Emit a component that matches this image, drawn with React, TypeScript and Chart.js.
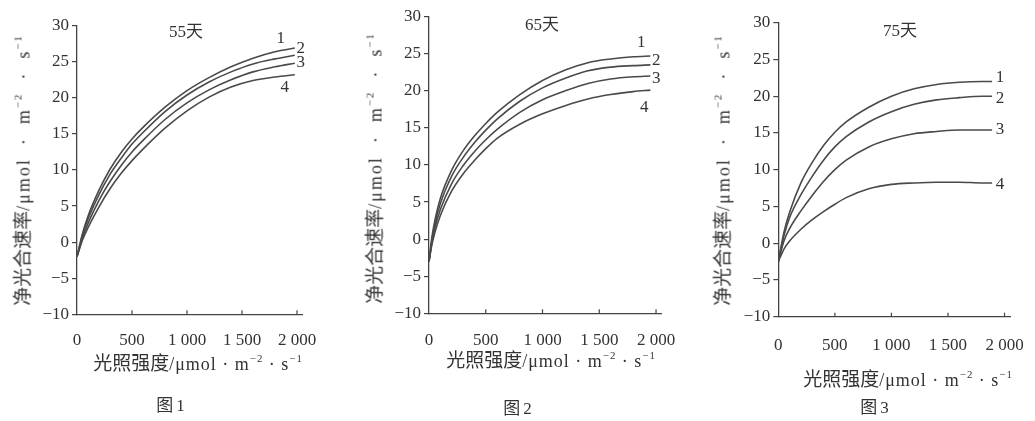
import React, { useEffect, useRef } from "react";
import { Chart, registerables } from "chart.js";

Chart.register(...registerables);

// ---------- data ----------
const xTickValues = [0, 500, 1000, 1500, 2000];
const xTickLabels = ["0", "500", "1 000", "1 500", "2 000"];
const yTickValues = [-10, -5, 0, 5, 10, 15, 20, 25, 30];
const yTickLabels = ["−10", "−5", "0", "5", "10", "15", "20", "25", "30"];
const lineNames = ["1", "2", "3", "4"];
const panelTitles = ["55天", "65天", "75天"];
const figureCaptions = ["图1", "图2", "图3"];

const light55 = [0, 50, 100, 200, 300, 400, 500, 600, 800, 1000, 1200, 1400, 1600, 1800, 1980];
const day55Line1 = [-2, 1.2, 3.6, 7.2, 10.1, 12.4, 14.3, 15.9, 18.7, 21.0, 22.8, 24.3, 25.5, 26.4, 26.9];
const day55Line2 = [-2, 1.0, 3.2, 6.6, 9.4, 11.6, 13.6, 15.2, 18.1, 20.4, 22.2, 23.6, 24.7, 25.4, 25.9];
const day55Line3 = [-2, 0.6, 2.6, 5.8, 8.4, 10.6, 12.5, 14.1, 17.0, 19.3, 21.1, 22.5, 23.6, 24.3, 24.8];
const day55Line4 = [-2, 0.3, 2.0, 4.9, 7.4, 9.5, 11.3, 12.9, 15.8, 18.2, 20.1, 21.5, 22.4, 22.9, 23.2];

const light65 = [0, 25, 50, 100, 200, 300, 400, 500, 600, 800, 1000, 1200, 1400, 1600, 1800, 1950];
const day65Line1 = [-3, 0.2, 2.4, 5.5, 9.3, 11.9, 13.9, 15.6, 17.1, 19.5, 21.4, 22.8, 23.8, 24.3, 24.6, 24.7];
const day65Line2 = [-3, -0.2, 1.9, 4.8, 8.5, 11.0, 13.0, 14.7, 16.2, 18.6, 20.4, 21.7, 22.7, 23.2, 23.4, 23.5];
const day65Line3 = [-3, -0.5, 1.4, 4.0, 7.5, 9.9, 11.8, 13.4, 14.8, 17.1, 18.8, 20.0, 21.0, 21.6, 21.9, 22.0];
const day65Line4 = [-3, -0.8, 0.8, 3.2, 6.5, 8.8, 10.6, 12.2, 13.6, 15.5, 16.9, 18.0, 18.9, 19.5, 19.9, 20.1];

const light75 = [0, 50, 100, 200, 300, 400, 500, 600, 800, 1000, 1200, 1400, 1600, 1800, 1890];
const day75Line1 = [-2.5, 1.5, 4.2, 8.2, 11.0, 13.3, 15.1, 16.5, 18.5, 20.0, 21.0, 21.6, 21.9, 22.0, 22.0];
const day75Line2 = [-2.5, 1.0, 3.5, 6.6, 9.1, 11.3, 13.1, 14.5, 16.5, 17.9, 18.9, 19.5, 19.8, 20.0, 20.0];
const day75Line3 = [-2.5, 0.3, 2.0, 4.4, 6.5, 8.4, 10.0, 11.3, 13.1, 14.2, 14.9, 15.2, 15.4, 15.4, 15.4];
const day75Line4 = [-2.5, -0.8, 0.3, 1.9, 3.2, 4.3, 5.3, 6.2, 7.4, 8.0, 8.2, 8.3, 8.3, 8.2, 8.2];

const X_MAX = 2050;

// ---------- styles / layout ----------
const FONT = "'Liberation Serif', 'Noto Sans CJK SC', serif";
const LINE_COLOR = "#4a4a4a";
const AXIS_COLOR = "#444";
const TEXT_COLOR = "#333";

type Panel = {
  left: number;
  width: number;
  pad: { left: number; right: number; top: number; bottom: number };
  xLabelPad: number;
  labelOffsets: number[][];
  xs: number[];
  lines: number[][];
  title: [number, number];
  caption: [number, number];
  xTitle: [number, number];
  yTitle: [number, number];
};

const Y_AXIS_W = 45;
const X_AXIS_H = 50;

const panels: Panel[] = [
  {
    left: 0,
    width: 345,
    pad: { left: 77 - Y_AXIS_W, right: 345 - 302.5, top: 25.7, bottom: 421 - 314.3 - X_AXIS_H },
    xLabelPad: 8,
    labelOffsets: [[-14, -10], [6, -7], [6, -1], [-10, 13]],
    xs: light55,
    lines: [day55Line1, day55Line2, day55Line3, day55Line4],
    title: [186, 31],
    caption: [172, 405],
    xTitle: [198, 363],
    yTitle: [23, 170],
  },
  {
    left: 345,
    width: 345,
    pad: { left: 84 - Y_AXIS_W, right: 345 - 316.7, top: 16.7, bottom: 421 - 313.3 - X_AXIS_H },
    xLabelPad: 9,
    labelOffsets: [[-9, -13], [6, -4], [6, 3], [-6, 17]],
    xs: light65,
    lines: [day65Line1, day65Line2, day65Line3, day65Line4],
    title: [542, 24],
    caption: [519, 408],
    xTitle: [551, 360],
    yTitle: [375, 168],
  },
  {
    left: 690,
    width: 345,
    pad: { left: 88.3 - Y_AXIS_W, right: 345 - 330.9, top: 22.7, bottom: 421 - 316.7 - X_AXIS_H },
    xLabelPad: 11,
    labelOffsets: [[8, -4], [8, 2], [8, 0], [8, 2]],
    xs: light75,
    lines: [day75Line1, day75Line2, day75Line3, day75Line4],
    title: [900, 30],
    caption: [876, 407],
    xTitle: [908, 379],
    yTitle: [723, 170],
  },
];

const innerTicks = {
  id: "innerTicks",
  afterDraw(chart: any) {
    const x = chart.scales.x;
    const ctx = chart.ctx;
    const yb = chart.chartArea.bottom;
    ctx.save();
    ctx.strokeStyle = AXIS_COLOR;
    ctx.lineWidth = 1.2;
    x.ticks.forEach((t: any) => {
      if (t.value === 0) return;
      const px = x.getPixelForValue(t.value);
      ctx.beginPath();
      ctx.moveTo(px, yb);
      ctx.lineTo(px, yb - 4);
      ctx.stroke();
    });
    ctx.restore();
  },
};

const lineLabels = {
  id: "lineLabels",
  afterDatasetsDraw(chart: any, _args: any, opts: any) {
    const ctx = chart.ctx;
    const offsets = opts.offsets || [];
    ctx.save();
    ctx.fillStyle = TEXT_COLOR;
    ctx.font = `17px ${FONT}`;
    ctx.textAlign = "center";
    ctx.textBaseline = "middle";
    chart.data.datasets.forEach((ds: any, i: number) => {
      const meta = chart.getDatasetMeta(i);
      const pt = meta.data[meta.data.length - 1];
      if (!pt) return;
      const off = offsets[i] || [0, 0];
      ctx.fillText(ds.label, pt.x + off[0], pt.y + off[1]);
    });
    ctx.restore();
  },
};

function PanelChart({ p }: { p: Panel }) {
  const ref = useRef<HTMLCanvasElement | null>(null);
  useEffect(() => {
    if (!ref.current) return;
    const chart = new Chart(ref.current, {
      type: "line",
      data: {
        datasets: p.lines.map((vals, i) => ({
          label: lineNames[i],
          data: p.xs.map((x, j) => ({ x, y: vals[j] })),
          borderColor: LINE_COLOR,
          borderWidth: 1.6,
          pointRadius: 0,
          fill: false,
          cubicInterpolationMode: "monotone" as const,
        })),
      },
      options: {
        animation: false,
        responsive: false,
        events: [],
        layout: { padding: p.pad },
        plugins: {
          legend: { display: false },
          tooltip: { enabled: false },
          lineLabels: { offsets: p.labelOffsets },
        } as any,
        scales: {
          x: {
            type: "linear",
            min: 0,
            max: X_MAX,
            afterBuildTicks: (axis: any) => {
              axis.ticks = xTickValues.map((v) => ({ value: v }));
            },
            afterFit: (axis: any) => {
              axis.height = X_AXIS_H;
            },
            grid: { display: false },
            border: { display: true, color: AXIS_COLOR, width: 1.3 },
            ticks: {
              color: TEXT_COLOR,
              font: { family: FONT, size: 17 },
              padding: p.xLabelPad,
              maxRotation: 0,
              autoSkip: false,
              callback: (v: any) => {
                const k = xTickValues.indexOf(Number(v));
                return k >= 0 ? xTickLabels[k] : "";
              },
            },
          },
          y: {
            type: "linear",
            min: -10,
            max: 30,
            afterBuildTicks: (axis: any) => {
              axis.ticks = yTickValues.map((v) => ({ value: v }));
            },
            afterFit: (axis: any) => {
              axis.width = Y_AXIS_W;
            },
            grid: {
              display: true,
              drawOnChartArea: false,
              drawTicks: true,
              tickLength: 5,
              color: AXIS_COLOR,
              lineWidth: 1.2,
            },
            border: { display: true, color: AXIS_COLOR, width: 1.3 },
            ticks: {
              color: TEXT_COLOR,
              font: { family: FONT, size: 17 },
              padding: 3,
              autoSkip: false,
              callback: (v: any) => {
                const k = yTickValues.indexOf(Number(v));
                return k >= 0 ? yTickLabels[k] : "";
              },
            },
          },
        },
      },
      plugins: [innerTicks, lineLabels],
    });
    return () => chart.destroy();
  }, [p]);
  return (
    <canvas
      ref={ref}
      width={p.width}
      height={421}
      style={{ position: "absolute", left: p.left, top: 0, width: p.width, height: 421 }}
    />
  );
}

const supStyle: React.CSSProperties = { fontSize: "0.6em", verticalAlign: "0.7em", lineHeight: 0 };

function centered(x: number, y: number, extra?: React.CSSProperties): React.CSSProperties {
  return {
    position: "absolute",
    left: x,
    top: y,
    transform: "translate(-50%, -50%)",
    whiteSpace: "nowrap",
    lineHeight: 1,
    color: TEXT_COLOR,
    fontFamily: FONT,
    ...extra,
  };
}

export default function App() {
  return (
    <div
      style={{
        position: "absolute",
        left: 0,
        top: 0,
        width: 1035,
        height: 421,
        background: "#fff",
        overflow: "hidden",
      }}
    >
      {panels.map((p, i) => (
        <React.Fragment key={i}>
          <PanelChart p={p} />
          <div style={centered(p.title[0], p.title[1], { fontSize: 17 })}>{panelTitles[i]}</div>
          <div style={centered(p.caption[0], p.caption[1], { fontSize: 17, letterSpacing: "3px" })}>
            {figureCaptions[i]}
          </div>
          <div style={centered(p.xTitle[0], p.xTitle[1], { fontSize: 18 })}>
            <span style={{ fontSize: 19 }}>光照强度</span>
            <span style={{ letterSpacing: "1px" }}>
              /μmol · m<sup style={supStyle}>−2</sup> · s<sup style={supStyle}>−1</sup>
            </span>
          </div>
          <div
            style={centered(p.yTitle[0], p.yTitle[1], {
              fontSize: 18,
              transform: "translate(-50%, -50%) rotate(-90deg)",
            })}
          >
            <span style={{ fontSize: 19 }}>净光合速率</span>
            <span style={{ letterSpacing: "2px" }}>
              /μmol&nbsp; · &nbsp;m<sup style={supStyle}>−2</sup>&nbsp; · &nbsp;s<sup style={supStyle}>−1</sup>
            </span>
          </div>
        </React.Fragment>
      ))}
    </div>
  );
}
